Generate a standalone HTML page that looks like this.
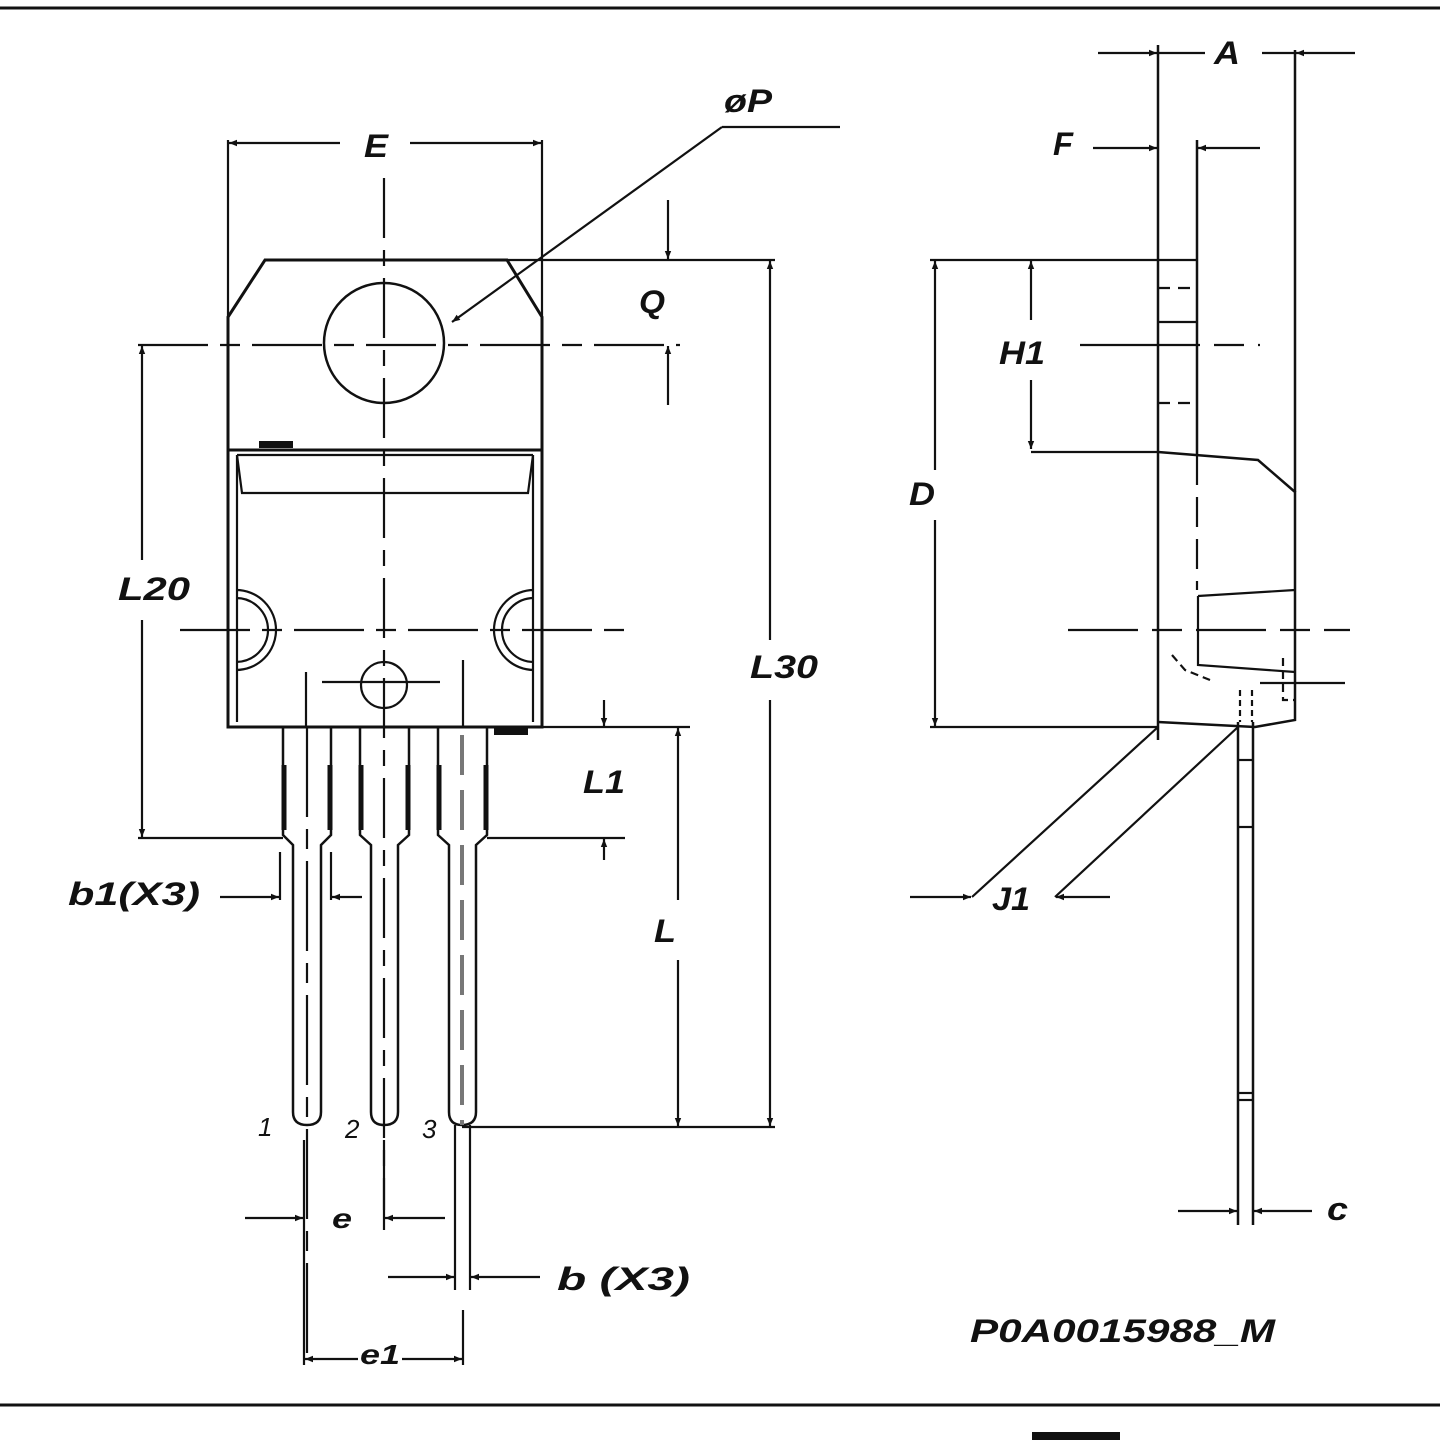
<!DOCTYPE html>
<html><head><style>html,body{margin:0;padding:0;background:#fff}svg{display:block}
text{font-family:"Liberation Sans",sans-serif;font-weight:bold;font-style:italic;fill:#111}</style></head>
<body>
<svg width="1440" height="1440" viewBox="0 0 1440 1440" xmlns="http://www.w3.org/2000/svg">
<defs>
<marker id="a" viewBox="0 0 10 10" refX="10" refY="5" markerWidth="20" markerHeight="8" markerUnits="userSpaceOnUse" orient="auto"><path d="M0,1 L10,5 L0,9z" fill="#111"/></marker>
</defs>
<g stroke="#111" fill="none" stroke-width="2.2">
<line x1="0" y1="8" x2="1440" y2="8" stroke-width="3"/>
<line x1="0" y1="1405" x2="1440" y2="1405" stroke-width="3"/>
<rect x="1032" y="1432" width="88" height="8" fill="#111" stroke="none"/>

<path d="M265,260 L507,260 L542,317 L542,727 L228,727 L228,317 Z" stroke-width="3"/>
<line x1="228" y1="450" x2="542" y2="450" stroke-width="3"/>
<line x1="237" y1="455" x2="237" y2="722"/>
<line x1="533" y1="455" x2="533" y2="722"/>
<line x1="237" y1="455" x2="533" y2="455"/>
<path d="M237,455 L242,493 L528,493 L533,455"/>
<rect x="259" y="441" width="34" height="7" fill="#111" stroke="none"/>
<rect x="494" y="727" width="34" height="8" fill="#111" stroke="none"/>
<circle cx="384" cy="343" r="60" stroke-width="2.5"/>
<circle cx="384" cy="685" r="23"/>
<path d="M236,590 A40,40 0 0 1 236,670"/><path d="M236,598 A32,32 0 0 1 236,662"/>
<path d="M534,590 A40,40 0 0 0 534,670"/><path d="M534,598 A32,32 0 0 0 534,662"/>
<line x1="322" y1="682" x2="440" y2="682"/>
<line x1="306" y1="672" x2="306" y2="727"/>
<line x1="463" y1="660" x2="463" y2="727"/>

<g stroke-width="2.5">
<path d="M283,727 L283,835 L293,845 L293,1112 Q293,1125 307,1125 Q321,1125 321,1112 L321,845 L331,835 L331,727"/>
<path d="M360,727 L360,835 L371,845 L371,1112 Q371,1125 384,1125 Q398,1125 398,1112 L398,845 L409,835 L409,727"/>
<path d="M438,727 L438,835 L449,845 L449,1112 Q449,1125 462,1125 Q476,1125 476,1112 L476,845 L487,835 L487,727"/>
</g>
<g stroke-width="5">
<line x1="284" y1="765" x2="284" y2="830"/><line x1="330" y1="765" x2="330" y2="830"/>
<line x1="361" y1="765" x2="361" y2="830"/><line x1="408" y1="765" x2="408" y2="830"/>
<line x1="439" y1="765" x2="439" y2="830"/><line x1="486" y1="765" x2="486" y2="830"/>
</g>
<line x1="307" y1="727" x2="307" y2="1360" stroke-dasharray="90,12,20,12"/>
<line x1="462" y1="735" x2="462" y2="1125" stroke="#777" stroke-width="4" stroke-dasharray="40,15"/>
<line x1="455" y1="1125" x2="455" y2="1290"/><line x1="470" y1="1125" x2="470" y2="1290"/>
<line x1="463" y1="1310" x2="463" y2="1365"/>
<line x1="304" y1="1140" x2="304" y2="1365"/>
<line x1="384" y1="1140" x2="384" y2="1230"/>

<line x1="384" y1="178" x2="384" y2="1210" stroke-dasharray="60,12,16,12"/>
<line x1="138" y1="345" x2="680" y2="345" stroke-dasharray="70,12,20,12"/>
<line x1="180" y1="630" x2="625" y2="630" stroke-dasharray="70,12,20,12"/>

<line x1="228" y1="140" x2="228" y2="317"/><line x1="542" y1="140" x2="542" y2="317"/>
<line x1="340" y1="143" x2="229" y2="143" marker-end="url(#a)"/>
<line x1="410" y1="143" x2="541" y2="143" marker-end="url(#a)"/>
<line x1="840" y1="127" x2="722" y2="127"/>
<line x1="722" y1="127" x2="452" y2="322" marker-end="url(#a)"/>
<line x1="507" y1="260" x2="775" y2="260"/>
<line x1="668" y1="200" x2="668" y2="259" marker-end="url(#a)"/>
<line x1="668" y1="405" x2="668" y2="346" marker-end="url(#a)"/>
<line x1="142" y1="560" x2="142" y2="346" marker-end="url(#a)"/>
<line x1="142" y1="620" x2="142" y2="837" marker-end="url(#a)"/>
<line x1="138" y1="838" x2="283" y2="838"/>
<line x1="487" y1="838" x2="625" y2="838"/>
<line x1="542" y1="727" x2="690" y2="727"/>
<line x1="604" y1="700" x2="604" y2="726" marker-end="url(#a)"/>
<line x1="604" y1="860" x2="604" y2="839" marker-end="url(#a)"/>
<line x1="678" y1="900" x2="678" y2="728" marker-end="url(#a)"/>
<line x1="678" y1="960" x2="678" y2="1126" marker-end="url(#a)"/>
<line x1="462" y1="1127" x2="775" y2="1127"/>
<line x1="770" y1="640" x2="770" y2="261" marker-end="url(#a)"/>
<line x1="770" y1="700" x2="770" y2="1126" marker-end="url(#a)"/>
<line x1="280" y1="852" x2="280" y2="900"/><line x1="331" y1="852" x2="331" y2="900"/>
<line x1="220" y1="897" x2="279" y2="897" marker-end="url(#a)"/>
<line x1="362" y1="897" x2="332" y2="897" marker-end="url(#a)"/>
<line x1="245" y1="1218" x2="303" y2="1218" marker-end="url(#a)"/>
<line x1="445" y1="1218" x2="385" y2="1218" marker-end="url(#a)"/>
<line x1="388" y1="1277" x2="454" y2="1277" marker-end="url(#a)"/>
<line x1="540" y1="1277" x2="471" y2="1277" marker-end="url(#a)"/>
<line x1="358" y1="1359" x2="305" y2="1359" marker-end="url(#a)"/>
<line x1="402" y1="1359" x2="462" y2="1359" marker-end="url(#a)"/>

<line x1="1158" y1="45" x2="1158" y2="740" stroke-width="2.5"/>
<line x1="1197" y1="140" x2="1197" y2="455" stroke-width="2.5"/>
<line x1="1197" y1="455" x2="1197" y2="590" stroke-dasharray="30,12"/>
<line x1="1295" y1="50" x2="1295" y2="492" stroke-width="2.5"/>
<line x1="1158" y1="260" x2="1197" y2="260"/>
<line x1="1158" y1="288" x2="1197" y2="288" stroke-dasharray="12,8"/>
<line x1="1158" y1="322" x2="1197" y2="322"/>
<line x1="1158" y1="403" x2="1197" y2="403" stroke-dasharray="12,8"/>
<path d="M1158,452 L1258,460 L1295,492 L1295,720 L1255,727 L1158,722" stroke-width="2.5"/>
<path d="M1198,596 L1295,590"/><path d="M1198,596 L1198,665 L1295,672"/>
<path d="M1172,655 L1185,670 L1210,680" stroke-dasharray="8,5"/>
<path d="M1283,658 L1283,700 L1295,700" stroke-dasharray="8,5"/>
<line x1="1260" y1="683" x2="1345" y2="683"/>
<line x1="1068" y1="630" x2="1350" y2="630" stroke-dasharray="70,14,30,14"/>
<line x1="1080" y1="345" x2="1260" y2="345" stroke-dasharray="120,14,30,14"/>
<line x1="1238" y1="722" x2="1238" y2="1225" stroke-width="2.5"/>
<line x1="1253" y1="722" x2="1253" y2="1225" stroke-width="2.5"/>
<line x1="1238" y1="760" x2="1253" y2="760"/><line x1="1238" y1="827" x2="1253" y2="827"/><line x1="1238" y1="1093" x2="1253" y2="1093"/><line x1="1238" y1="1100" x2="1253" y2="1100"/>
<line x1="1240" y1="690" x2="1240" y2="722" stroke-dasharray="6,4"/><line x1="1252" y1="690" x2="1252" y2="722" stroke-dasharray="6,4"/>
<line x1="930" y1="260" x2="1158" y2="260"/>
<line x1="930" y1="727" x2="1158" y2="727"/>
<line x1="935" y1="470" x2="935" y2="261" marker-end="url(#a)"/>
<line x1="935" y1="520" x2="935" y2="726" marker-end="url(#a)"/>
<line x1="1031" y1="320" x2="1031" y2="261" marker-end="url(#a)"/>
<line x1="1031" y1="380" x2="1031" y2="449" marker-end="url(#a)"/>
<line x1="1031" y1="452" x2="1158" y2="452"/>
<line x1="1098" y1="53" x2="1157" y2="53" marker-end="url(#a)"/>
<line x1="1355" y1="53" x2="1296" y2="53" marker-end="url(#a)"/>
<line x1="1158" y1="53" x2="1205" y2="53"/><line x1="1262" y1="53" x2="1295" y2="53"/>
<line x1="1093" y1="148" x2="1157" y2="148" marker-end="url(#a)"/>
<line x1="1260" y1="148" x2="1198" y2="148" marker-end="url(#a)"/>
<line x1="1158" y1="727" x2="972" y2="897"/>
<line x1="1238" y1="727" x2="1055" y2="897"/>
<line x1="910" y1="897" x2="971" y2="897" marker-end="url(#a)"/>
<line x1="1110" y1="897" x2="1056" y2="897" marker-end="url(#a)"/>
<line x1="1178" y1="1211" x2="1237" y2="1211" marker-end="url(#a)"/>
<line x1="1312" y1="1211" x2="1254" y2="1211" marker-end="url(#a)"/>
</g>

<g font-size="32">
<text x="364" y="157" textLength="24" lengthAdjust="spacingAndGlyphs">E</text>
<text x="724" y="112" textLength="48" lengthAdjust="spacingAndGlyphs">øP</text>
<text x="639" y="313" textLength="26" lengthAdjust="spacingAndGlyphs">Q</text>
<text x="118" y="600" textLength="72" lengthAdjust="spacingAndGlyphs">L20</text>
<text x="750" y="678" textLength="68" lengthAdjust="spacingAndGlyphs">L30</text>
<text x="583" y="793" textLength="42" lengthAdjust="spacingAndGlyphs">L1</text>
<text x="654" y="942" textLength="22" lengthAdjust="spacingAndGlyphs">L</text>
<text x="68" y="905" textLength="132" lengthAdjust="spacingAndGlyphs">b1(X3)</text>
<text x="332" y="1228" font-size="28" textLength="20" lengthAdjust="spacingAndGlyphs">e</text>
<text x="557" y="1290" textLength="133" lengthAdjust="spacingAndGlyphs">b  (X3)</text>
<text x="360" y="1364" font-size="28" textLength="40" lengthAdjust="spacingAndGlyphs">e1</text>
<text x="1214" y="64" textLength="26" lengthAdjust="spacingAndGlyphs">A</text>
<text x="1053" y="155" textLength="20" lengthAdjust="spacingAndGlyphs">F</text>
<text x="999" y="364" textLength="46" lengthAdjust="spacingAndGlyphs">H1</text>
<text x="909" y="505" textLength="26" lengthAdjust="spacingAndGlyphs">D</text>
<text x="992" y="910" textLength="38" lengthAdjust="spacingAndGlyphs">J1</text>
<text x="1327" y="1220" textLength="21" lengthAdjust="spacingAndGlyphs">c</text>
<text x="970" y="1342" textLength="305" lengthAdjust="spacingAndGlyphs">P0A0015988_M</text>
</g>
<g font-size="26">
<text x="258" y="1136" style="font-weight:normal">1</text>
<text x="345" y="1138" style="font-weight:normal">2</text>
<text x="422" y="1138" style="font-weight:normal">3</text>
</g>
</svg>
</body></html>
